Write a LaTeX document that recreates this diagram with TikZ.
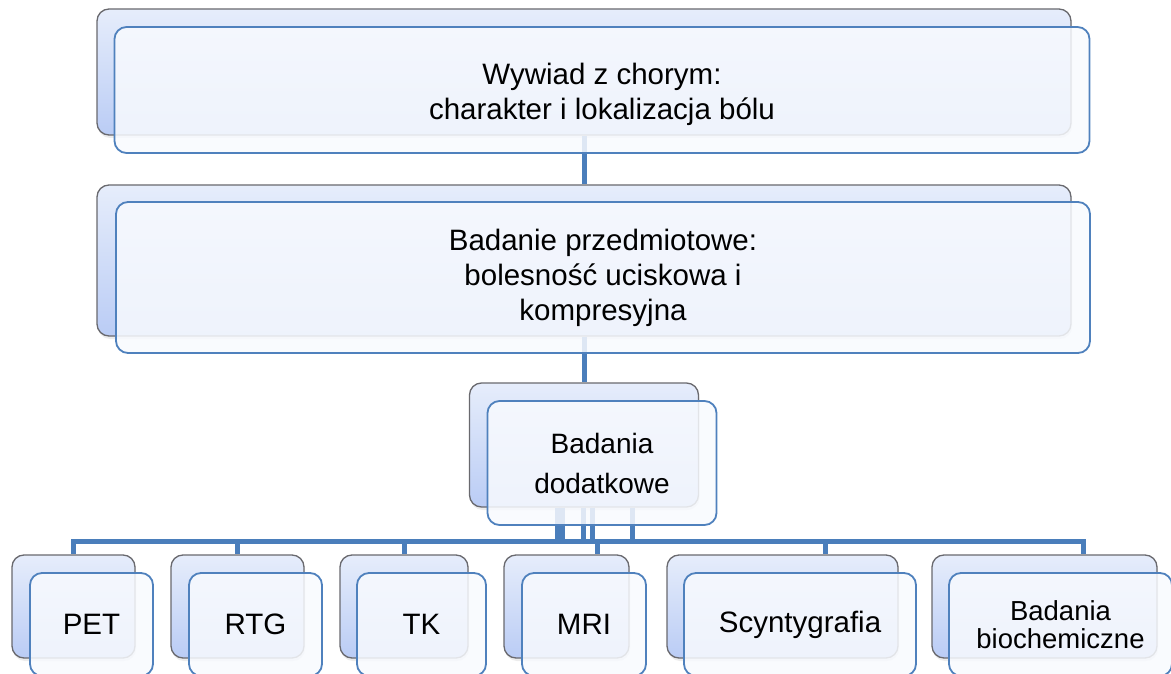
\documentclass[tikz,border=0pt]{standalone}
\usepackage{fontspec}
\setmainfont{Liberation Sans}
\usepackage{tikz}
\usetikzlibrary{calc}
\usetikzlibrary{shadows}
\definecolor{linkblue}{RGB}{74,126,187}
\definecolor{edgeblue}{RGB}{79,129,189}
\definecolor{backtop}{RGB}{230,237,251}
\definecolor{backbot}{RGB}{186,204,245}
\definecolor{frontfill}{RGB}{248,250,254}
\definecolor{backedge}{RGB}{105,105,110}

\begin{document}
\begin{tikzpicture}[x=1pt,y=-1pt,
  backbox/.style={draw=backedge,line width=1.3pt,rounded corners=12pt,top color=backtop,bottom color=backbot,
    drop shadow={opacity=0.15,shadow xshift=1pt,shadow yshift=-3pt},inner sep=0pt},
  frontbox/.style={draw=edgeblue,line width=1.8pt,rounded corners=12pt,fill=frontfill,fill opacity=0.85,
    text opacity=1,align=center,inner sep=0pt},
  link/.style={linkblue,line width=5pt},
  bigtext/.style={font=\fontsize{29.5}{35}\selectfont}]
        \useasboundingbox (0,0) rectangle (1171,674);
        %back boxes
        \node[backbox,minimum width=974pt,minimum height=126pt] (wywiadB) at (584,72) {};
        \node[backbox,minimum width=974pt,minimum height=151pt] (badanieB) at (584,260.5) {};
        \node[backbox,minimum width=229pt,minimum height=124pt] (dodatB) at (584,445) {};
        \node[backbox,minimum width=123pt,minimum height=103pt] (petB) at (73.5,606.5) {};
        \node[backbox,minimum width=133pt,minimum height=103pt] (rtgB) at (237.5,606.5) {};
        \node[backbox,minimum width=128pt,minimum height=103pt] (tkB) at (404,606.5) {};
        \node[backbox,minimum width=125pt,minimum height=103pt] (mriB) at (566.5,606.5) {};
        \node[backbox,minimum width=231pt,minimum height=103pt] (scyntB) at (782.5,606.5) {};
        \node[backbox,minimum width=225pt,minimum height=103pt] (bioB) at (1044.5,606.5) {};
        %links
        \coordinate (bus) at (0,541);
        \draw[link] (wywiadB.south) -- (badanieB.north);
        \draw[link] (badanieB.south) -- (dodatB.north);
        \draw[link] ([xshift=-27pt]dodatB.south) |- (petB.north |- bus) -- (petB.north);
        \draw[link] ([xshift=-22pt]dodatB.south) |- (rtgB.north |- bus) -- (rtgB.north);
        \draw[link] ([xshift=-1pt]dodatB.south) |- (tkB.north |- bus) -- (tkB.north);
        \draw[link] ([xshift=8pt]dodatB.south) |- ([xshift=30.5pt]mriB.north |- bus) -- ([xshift=30.5pt]mriB.north);
        \draw[link] ([xshift=48pt]dodatB.south) |- ([xshift=42.5pt]scyntB.north |- bus) -- ([xshift=42.5pt]scyntB.north);
        \draw[link] ([xshift=-1pt]dodatB.south) |- ([xshift=38.5pt]bioB.north |- bus) -- ([xshift=38.5pt]bioB.north);
        %front boxes
        \node[frontbox,bigtext,minimum width=975pt,minimum height=126pt] (wywiad) at ($(wywiadB)+(18,18)$)
          {\rule{0pt}{31pt}Wywiad z chorym:\\charakter i lokalizacja bólu};
        \node[frontbox,bigtext,minimum width=974pt,minimum height=151pt] (badanie) at ($(badanieB)+(19,17)$)
          {Badanie przedmiotowe:\\bolesność uciskowa i\\kompresyjna};
        \node[frontbox,font=\fontsize{28}{40}\selectfont,minimum width=229pt,minimum height=124pt] (dodat) at ($(dodatB)+(18,18)$)
          {Badania\\dodatkowe};
        \node[frontbox,bigtext,minimum width=123pt,minimum height=103pt] (pet) at ($(petB)+(18,18)$) {PET};
        \node[frontbox,bigtext,minimum width=133pt,minimum height=103pt] (rtg) at ($(rtgB)+(18,18)$) {RTG};
        \node[frontbox,bigtext,minimum width=129pt,minimum height=103pt] (tk) at ($(tkB)+(17.5,18)$) {TK};
        \node[frontbox,bigtext,minimum width=124pt,minimum height=103pt] (mri) at ($(mriB)+(17.5,18)$) {MRI};
        \node[frontbox,bigtext,minimum width=232pt,minimum height=103pt] (scynt) at ($(scyntB)+(17.5,18)$) {Scyntygrafia};
        \node[frontbox,font=\fontsize{27.5}{28}\selectfont,minimum width=223pt,minimum height=103pt] (bio) at ($(bioB)+(16,18)$)
          {Badania\\biochemiczne};
        \end{tikzpicture}
\end{document}
